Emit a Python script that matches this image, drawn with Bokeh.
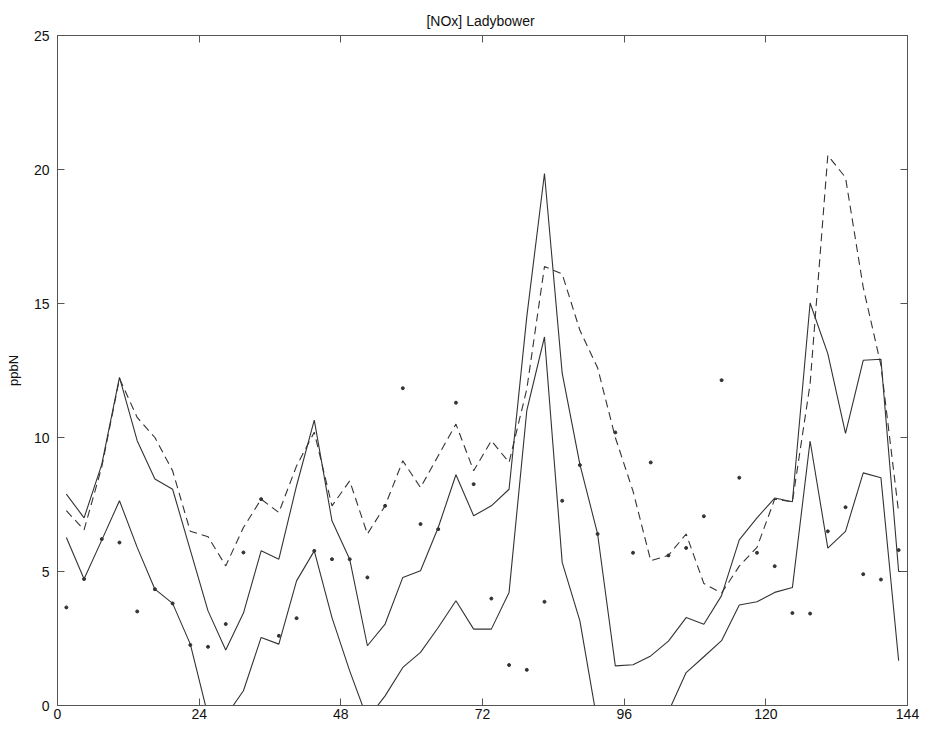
from bokeh.plotting import figure
from bokeh.models import LinearAxis, Range1d, FixedTicker, CustomJSTickFormatter
from bokeh.embed import file_html
from bokeh.resources import INLINE

# hours (mid-points of 3-hour blocks)
hours = [1.5, 4.5, 7.5, 10.5, 13.5, 16.5, 19.5, 22.5, 25.5, 28.5, 31.5, 34.5,
         37.5, 40.5, 43.5, 46.5, 49.5, 52.5, 55.5, 58.5, 61.5, 64.5, 67.5, 70.5,
         73.5, 76.5, 79.5, 82.5, 85.5, 88.5, 91.5, 94.5, 97.5, 100.5, 103.5, 106.5,
         109.5, 112.5, 115.5, 118.5, 121.5, 124.5, 127.5, 130.5, 133.5, 136.5, 139.5, 142.5]

upper_hours = hours + [144]
upper = [7.89, 7.0, 9.0, 12.24, 9.88, 8.45, 8.07, 5.8, 3.53, 2.07, 3.45, 5.77,
         5.46, 8.2, 10.65, 6.89, 5.46, 2.23, 3.04, 4.78, 5.03, 6.64, 8.61, 7.08,
         7.45, 8.07, 14.5, 19.85, 12.4, 9.0, 6.4, 1.48, 1.52, 1.85, 2.4, 3.28,
         3.03, 4.1, 6.18, 7.0, 7.74, 7.6, 15.02, 13.13, 10.15, 12.88, 12.92, 5.0, 5.0]

lower = [6.27, 4.72, 6.17, 7.64, 5.9, 4.34, 3.81, 2.29, -0.38, -0.4, 0.55, 2.54,
         2.29, 4.65, 5.77, 3.28, 1.29, -0.5, 0.36, 1.42, 1.98, 2.91, 3.91, 2.85,
         2.85, 4.22, 11.0, 13.75, 5.34, 3.16, -0.67, -1.5, -1.8, -1.2, -0.23, 1.23,
         1.82, 2.42, 3.75, 3.87, 4.22, 4.4, 9.87, 5.87, 6.5, 8.68, 8.5, 1.67]

dashed = [7.27, 6.55, 8.9, 12.2, 10.75, 10.0, 8.76, 6.5, 6.3, 5.21, 6.64, 7.7,
          7.2, 8.94, 10.2, 7.45, 8.38, 6.4, 7.45, 9.13, 8.13, 9.32, 10.5, 8.76,
          9.88, 9.07, 11.8, 16.38, 16.1, 14.0, 12.6, 10.0, 8.0, 5.4, 5.6, 6.4,
          4.55, 4.2, 5.2, 5.9, 7.7, 7.6, 12.0, 20.53, 19.7, 15.6, 12.7, 7.2]

observed = [3.66, 4.72, 6.21, 6.08, 3.51, 4.34, 3.81, 2.26, 2.19, 3.04, 5.71, 7.7,
            2.6, 3.26, 5.77, 5.46, 5.46, 4.78, 7.45, 11.84, 6.77, 6.58, 11.3, 8.26,
            3.99, 1.51, 1.33, 3.87, 7.64, 8.97, 6.4, 10.19, 5.7, 9.07, 5.6, 5.88,
            7.06, 12.14, 8.5, 5.7, 5.2, 3.45, 3.43, 6.5, 7.4, 4.9, 4.7, 5.8]

x_ticks = [0, 24, 48, 72, 96, 120, 144]
y_ticks = [0, 5, 10, 15, 20, 25]

FONT = "Liberation Sans"
AXIS_COLOR = "#555555"
LINE_COLOR = "#333333"

p = figure(width=930, height=734, x_range=Range1d(0, 144), y_range=Range1d(0, 25),
           output_backend="svg", toolbar_location=None,
           min_border_left=57, min_border_right=23, min_border_top=35, min_border_bottom=29,
           title="[NOx]  Ladybower")

p.title.align = "center"
p.title.text_font = FONT
p.title.text_font_size = "14px"
p.title.text_font_style = "normal"
p.title.text_color = "#111111"
p.title.standoff = 14

p.grid.visible = False
p.outline_line_color = AXIS_COLOR
p.background_fill_color = "white"
p.border_fill_color = "white"

def style_axis(ax, labels=True):
    ax.axis_line_color = AXIS_COLOR
    ax.axis_line_width = 1
    ax.major_tick_line_color = AXIS_COLOR
    ax.major_tick_in = 7
    ax.major_tick_out = 0
    ax.minor_tick_line_color = None
    ax.major_label_text_font = FONT
    ax.major_label_text_font_size = "14px"
    ax.major_label_text_color = "#111111"
    if not labels:
        ax.formatter = CustomJSTickFormatter(code="return ''")
        ax.major_label_standoff = 0
        ax.major_label_text_font_size = "1px"

p.xaxis.ticker = FixedTicker(ticks=x_ticks)
p.yaxis.ticker = FixedTicker(ticks=y_ticks)
style_axis(p.xaxis[0])
style_axis(p.yaxis[0])
p.xaxis.major_label_standoff = 3
p.yaxis.major_label_standoff = 8

p.yaxis.axis_label = "ppbN"
p.yaxis.axis_label_text_font = FONT
p.yaxis.axis_label_text_font_size = "13px"
p.yaxis.axis_label_text_font_style = "normal"
p.yaxis.axis_label_text_color = "#111111"
p.yaxis.axis_label_standoff = 10

top_axis = LinearAxis(ticker=FixedTicker(ticks=x_ticks))
style_axis(top_axis, labels=False)
p.add_layout(top_axis, "above")

right_axis = LinearAxis(ticker=FixedTicker(ticks=y_ticks))
style_axis(right_axis, labels=False)
p.add_layout(right_axis, "right")

p.line(upper_hours, upper, line_color=LINE_COLOR, line_width=1.1)
p.line(hours, lower, line_color=LINE_COLOR, line_width=1.1)
p.line(hours, dashed, line_color=LINE_COLOR, line_width=1.1, line_dash="8 5")
p.scatter(hours, observed, size=3, color="#333333")

open("out.html", "w").write(file_html(p, INLINE))
